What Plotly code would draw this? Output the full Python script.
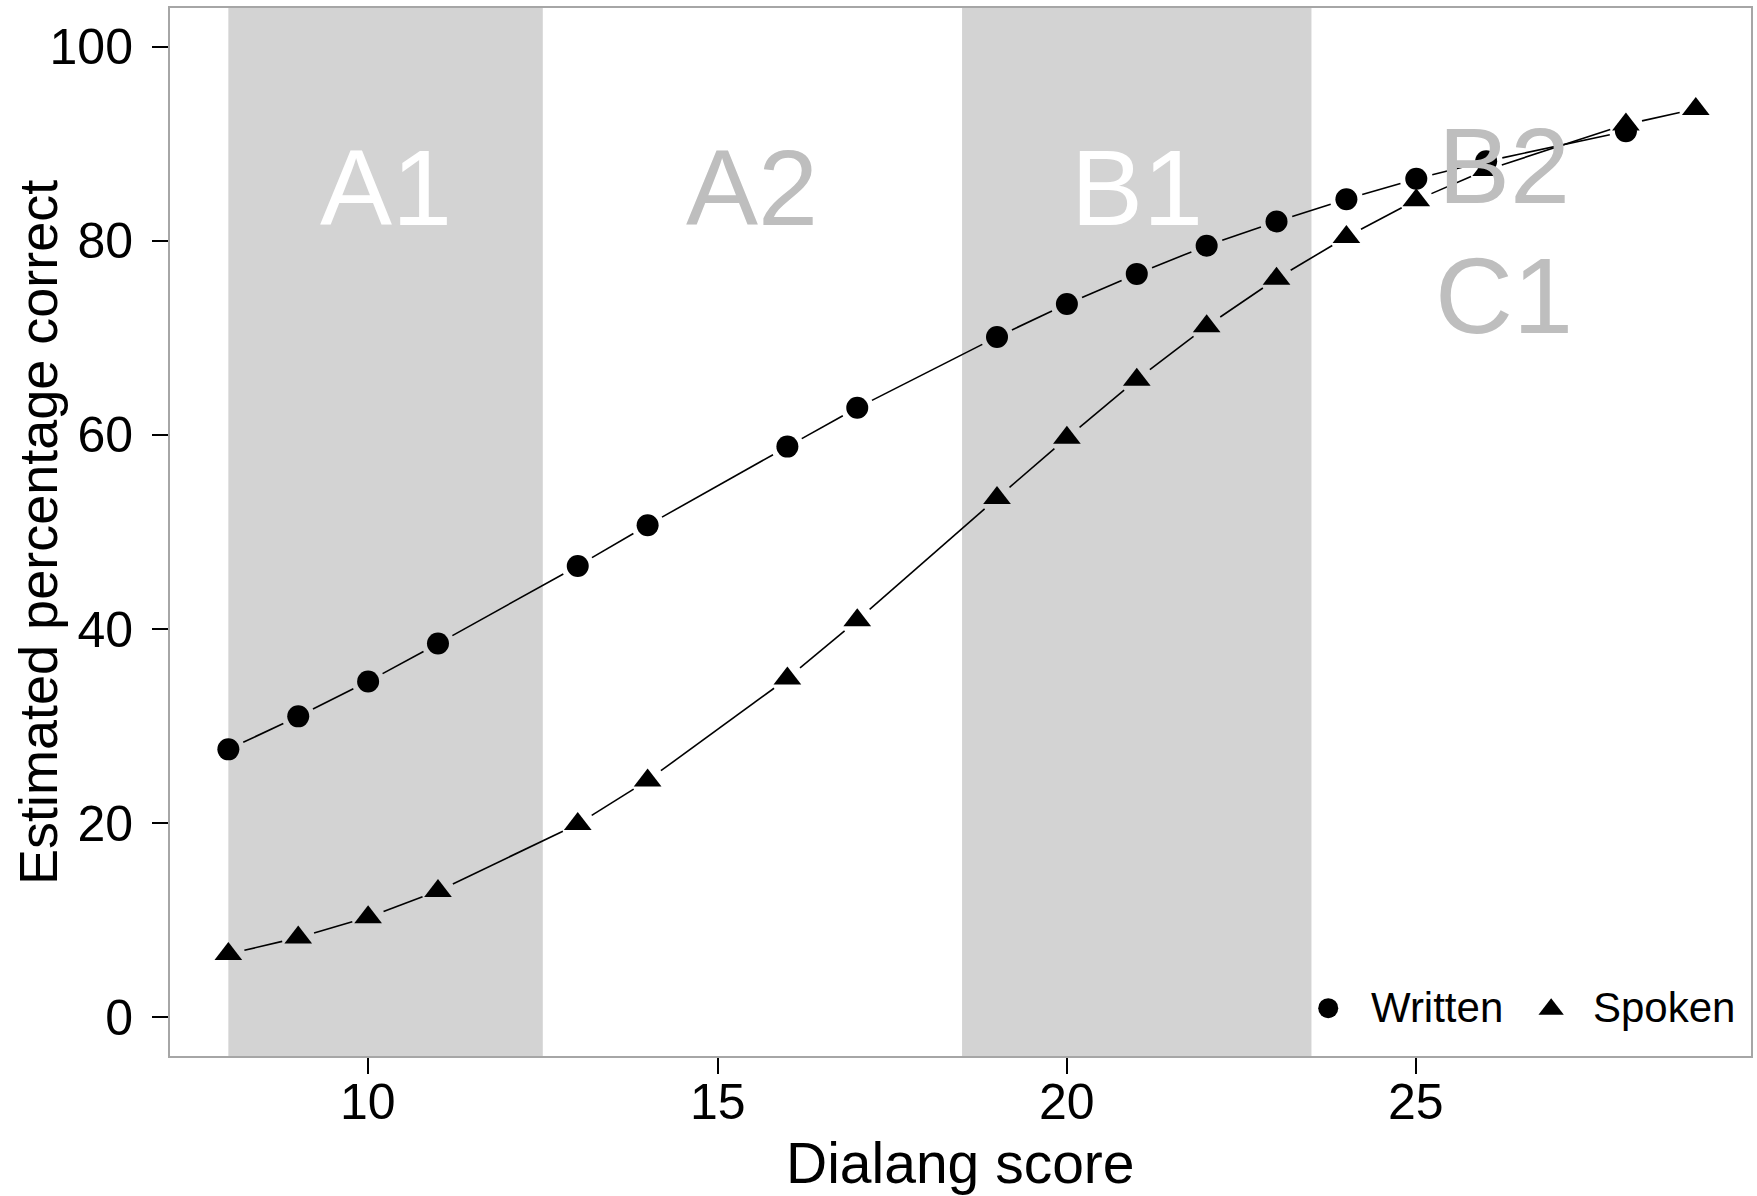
import math
import plotly.graph_objects as go

# Dialang score vs. estimated percentage correct, written and spoken tests
score_written = [8, 9, 10, 11, 13, 14, 16, 17, 19, 20, 21, 22, 23, 24, 25, 26, 28]
pct_written = [27.6, 31.0, 34.6, 38.5, 46.5, 50.7, 58.8, 62.8, 70.1, 73.5,
               76.6, 79.5, 82.0, 84.3, 86.4, 88.2, 91.3]

score_spoken = [8, 9, 10, 11, 13, 14, 16, 17, 19, 20, 21, 22, 23, 24, 25, 26, 28, 29]
pct_spoken = [6.5, 8.2, 10.3, 13.0, 19.9, 24.4, 34.9, 40.9, 53.5, 59.7,
              65.7, 71.2, 76.1, 80.4, 84.2, 87.3, 92.0, 93.6]

# CEFR level boundaries on the Dialang scale
level_edges = [8, 12.5, 18.5, 23.5, 29]
level_names = ["A1", "A2", "B1", "B2\nC1"]
level_shaded = [True, False, True, False]

x_ticks = [10, 15, 20, 25]
y_ticks = [0, 20, 40, 60, 80, 100]

series_names = ["Written", "Spoken"]
series_symbols = ["circle", "triangle-up"]
series_sizes = [22, 24]

# page / plot geometry
W, H = 1757, 1196
ML, MR, MT, MB = 170, 4, 8, 140
XR = [7.165, 29.79]
YR = [-4, 104]
FONT = "Liberation Sans, Arial, Helvetica, sans-serif"

kx = (W - ML - MR) / (XR[1] - XR[0])
ky = (H - MT - MB) / (YR[1] - YR[0])


def gapped_segments(xs, ys, gap_px=16.5):
    """Connect consecutive points, leaving a gap around each marker."""
    sx, sy = [], []
    for (x1, y1), (x2, y2) in zip(zip(xs, ys), zip(xs[1:], ys[1:])):
        dx, dy = (x2 - x1) * kx, (y2 - y1) * ky
        length = math.hypot(dx, dy)
        if length <= 2 * gap_px:
            continue
        t = gap_px / length
        sx += [x1 + t * (x2 - x1), x2 - t * (x2 - x1), None]
        sy += [y1 + t * (y2 - y1), y2 - t * (y2 - y1), None]
    return sx, sy


fig = go.Figure()

series = [(score_written, pct_written), (score_spoken, pct_spoken)]

for xs, ys in series:
    sx, sy = gapped_segments(xs, ys)
    fig.add_trace(go.Scatter(x=sx, y=sy, mode="lines", showlegend=False,
                             hoverinfo="skip",
                             line=dict(color="black", width=1.6)))

for (xs, ys), name, sym, size in zip(series, series_names, series_symbols,
                                     series_sizes):
    fig.add_trace(go.Scatter(x=xs, y=ys, mode="markers", name=name,
                             showlegend=False,
                             marker=dict(symbol=sym, size=size, color="black",
                                         line=dict(width=0))))

# legend key in the lower right corner of the plotting region
key_x = [23.74, 26.93]
key_y = [0.93, 0.82]
key_text_x = [24.32, 27.50]
for kxp, kyp, ktx, name, sym, size in zip(key_x, key_y, key_text_x,
                                          series_names, series_symbols,
                                          series_sizes):
    fig.add_trace(go.Scatter(x=[kxp], y=[kyp], mode="markers",
                             showlegend=False, hoverinfo="skip",
                             marker=dict(symbol=sym, size=size - 2,
                                         color="black", line=dict(width=0))))
    fig.add_annotation(x=ktx, y=0.98, xref="x", yref="y", text=name,
                       showarrow=False, xanchor="left", yanchor="middle",
                       font=dict(family=FONT, size=42, color="black"))

# shaded level bands and their labels
for i, name in enumerate(level_names):
    x0, x1 = level_edges[i], level_edges[i + 1]
    xm = (x0 + x1) / 2
    if level_shaded[i]:
        fig.add_shape(type="rect", xref="x", yref="paper", x0=x0, x1=x1,
                      y0=0, y1=1, fillcolor="#d3d3d3", line=dict(width=0),
                      layer="below")
    color = "white" if level_shaded[i] else "#bebebe"
    parts = name.split("\n")
    ys_lab = [85.5] if len(parts) == 1 else [87.8, 74.4]
    for part, yl in zip(parts, ys_lab):
        fig.add_annotation(x=xm, y=yl, xref="x", yref="y", text=part,
                           showarrow=False, xanchor="center", yanchor="middle",
                           font=dict(family=FONT, size=108, color=color))

# x tick labels, set a little below the tick marks
for xv in x_ticks:
    fig.add_annotation(x=xv, y=0, xref="x", yref="paper", text=str(xv),
                       showarrow=False, xanchor="center", yanchor="top",
                       yshift=-16,
                       font=dict(family=FONT, size=50, color="black"))

# axis titles
fig.add_annotation(x=0.5, y=-0.1025, xref="paper", yref="paper",
                   text="Dialang score", showarrow=False,
                   xanchor="center", yanchor="middle",
                   font=dict(family=FONT, size=57, color="black"))
fig.add_annotation(x=-0.0835, y=0.5, xref="paper", yref="paper",
                   text="Estimated percentage correct", showarrow=False,
                   textangle=-90, xanchor="center", yanchor="middle",
                   font=dict(family=FONT, size=54, color="black"))

axis_common = dict(showgrid=False, zeroline=False, showline=True, mirror=True,
                   linecolor="#a6a6a6", linewidth=2, ticks="outside",
                   ticklen=16, tickwidth=2, tickcolor="black",
                   tickfont=dict(family=FONT, size=50, color="black"))

fig.update_xaxes(range=XR, tickvals=x_ticks, showticklabels=False,
                 **axis_common)
fig.update_yaxes(range=YR, tickvals=y_ticks, ticklabelstandoff=9,
                 **axis_common)

fig.update_layout(
    width=W, height=H,
    margin=dict(l=ML, r=MR, t=MT, b=MB, pad=0),
    plot_bgcolor="white", paper_bgcolor="white",
    font=dict(family=FONT, color="black"),
    showlegend=False,
)

fig.write_html("out.html")
